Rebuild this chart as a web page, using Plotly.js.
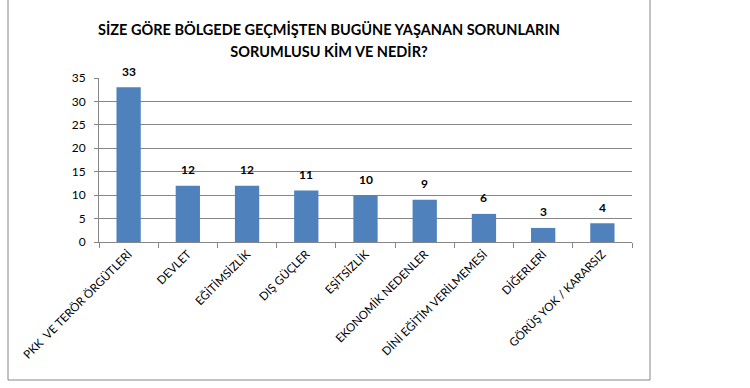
<!DOCTYPE html>
<html>
<head>
<meta charset="utf-8">
<script src="https://cdn.plot.ly/plotly-3.0.1.min.js"></script>
<style>
html,body{margin:0;padding:0;background:#fff;}
#chart{width:750px;height:388px;}
</style>
</head>
<body>
<div id="chart"></div>
<script>
const categories = [
  "PKK\u00a0\u00a0VE TERÖR ÖRGÜTLERİ",
  "DEVLET",
  "EĞİTİMSİZLİK",
  "DIŞ GÜÇLER",
  "EŞİTSİZLİK",
  "EKONOMİK NEDENLER",
  "DİNİ EĞİTİM VERİLMEMESİ",
  "DİĞERLERİ",
  "GÖRÜŞ YOK / KARARSIZ"
];
const values = [33, 12, 12, 11, 10, 9, 6, 3, 4];
const yTicks = [0, 5, 10, 15, 20, 25, 30, 35];
const titleLines = [
  "SİZE GÖRE BÖLGEDE GEÇMİŞTEN BUGÜNE YAŞANAN SORUNLARIN",
  "SORUMLUSU KİM VE NEDİR?"
];

const FONT = "Lato, 'Open Sans', sans-serif";

const trace = {
  type: "bar",
  x: categories,
  y: values,
  marker: {color: "#4F81BD"},
  hoverinfo: "x+y"
};

const annotations = categories.map((c, i) => ({
  x: c, y: values[i], xref: "x", yref: "y",
  text: "<b>" + values[i] + "</b>",
  showarrow: false,
  yanchor: "middle",
  yshift: 16,
  font: {family: FONT, size: 12, color: "#000"}
}));

const layout = {
  width: 750, height: 388,
  margin: {l: 99, r: 118, t: 78, b: 146},
  paper_bgcolor: "#fff",
  plot_bgcolor: "#fff",
  showlegend: false,
  bargap: 0.59,
  title: {
    text: "<b>" + titleLines.map(t => "<span style='font-size:14.5px'>" + t + "</span>").join("<br>") + "</b>",
    x: 329 / 750, xref: "container", xanchor: "center",
    y: 1 - 35 / 388, yref: "container", yanchor: "top",
    font: {family: FONT, size: 17, color: "#000"}
  },
  xaxis: {
    type: "category",
    tickangle: -45,
    tickson: "boundaries",
    ticks: "outside",
    ticklen: 5,
    tickcolor: "#868686",
    showline: true,
    linecolor: "#868686",
    linewidth: 1,
    showgrid: false,
    tickfont: {family: FONT, size: 11.5, color: "#000"}
  },
  yaxis: {
    range: [0, 35],
    tickvals: yTicks,
    ticks: "outside",
    ticklen: 4,
    tickcolor: "#868686",
    showline: true,
    linecolor: "#868686",
    linewidth: 1,
    showgrid: true,
    gridcolor: "#868686",
    gridwidth: 1,
    zeroline: false,
    ticklabelstandoff: 6,
    tickfont: {family: FONT, size: 12, color: "#000"}
  },
  annotations: annotations,
  shapes: [{
    type: "rect", xref: "paper", yref: "paper",
    x0: (8 - 99) / 533, x1: (650 - 99) / 533,
    y0: (242 - 380) / 164, y1: (242 + 10) / 164,
    line: {color: "#868686", width: 1},
    fillcolor: "rgba(0,0,0,0)",
    layer: "below"
  }]
};

Plotly.newPlot("chart", [trace], layout, {displayModeBar: false, staticPlot: true});
</script>
</body>
</html>
